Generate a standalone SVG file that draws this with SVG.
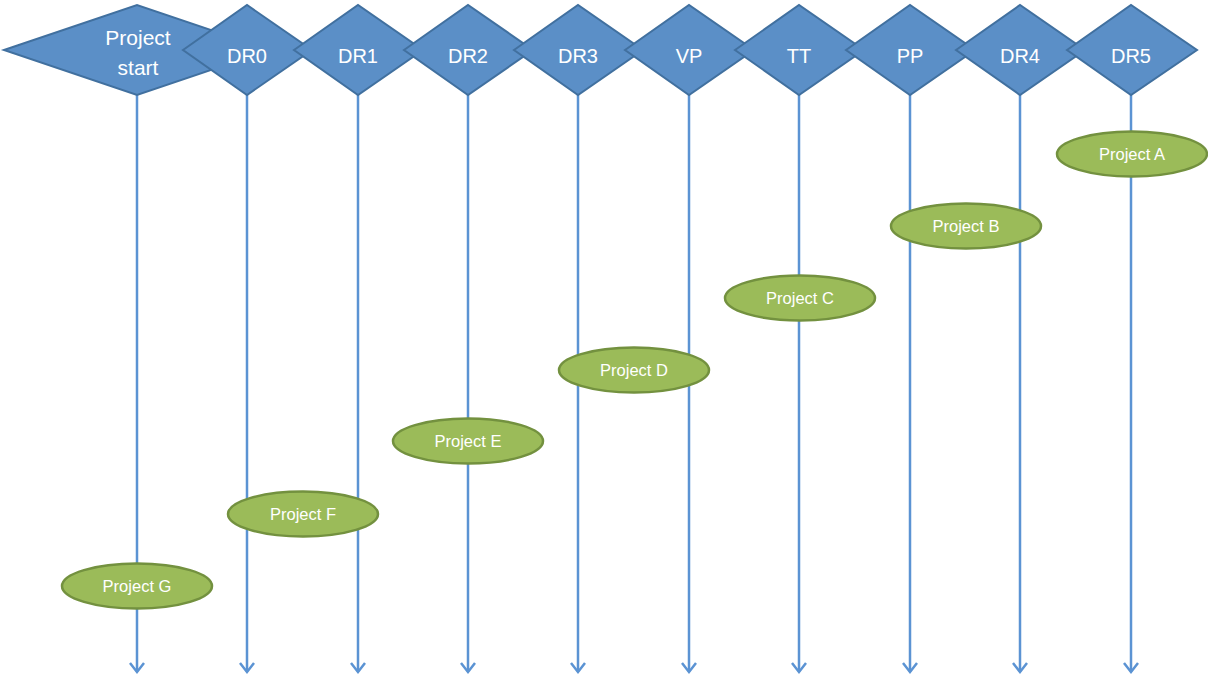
<svg xmlns="http://www.w3.org/2000/svg" width="1208" height="680" viewBox="0 0 1208 680">
<style>
.dia{fill:#5b8fc7;stroke:#41709f;stroke-width:2;stroke-linejoin:miter}
.dt{fill:#ffffff;font-family:"Liberation Sans",Arial,sans-serif;font-size:20px;text-anchor:middle}
.ell{fill:#9bbb59;stroke:#73913f;stroke-width:2.5}
.et{fill:#ffffff;font-family:"Liberation Sans",Arial,sans-serif;font-size:16.5px;text-anchor:middle}
.ln{stroke:#5b93d3;stroke-width:2.5;fill:none;marker-end:url(#arr)}
</style>
<defs>
<marker id="arr" markerWidth="14" markerHeight="16" refX="11" refY="8" orient="auto" markerUnits="userSpaceOnUse" viewBox="0 0 14 16">
<path d="M2,1 L11,8 L2,15" fill="none" stroke="#5b93d3" stroke-width="2.5"/>
</marker>
</defs>
<g id="connectors">
<line class="ln" x1="137" y1="94" x2="137" y2="672"/>
<line class="ln" x1="247" y1="94" x2="247" y2="672"/>
<line class="ln" x1="358" y1="94" x2="358" y2="672"/>
<line class="ln" x1="468" y1="94" x2="468" y2="672"/>
<line class="ln" x1="578" y1="94" x2="578" y2="672"/>
<line class="ln" x1="689" y1="94" x2="689" y2="672"/>
<line class="ln" x1="799" y1="94" x2="799" y2="672"/>
<line class="ln" x1="910" y1="94" x2="910" y2="672"/>
<line class="ln" x1="1020" y1="94" x2="1020" y2="672"/>
<line class="ln" x1="1131" y1="94" x2="1131" y2="672"/>
</g>
<g id="project-start"><polygon class="dia" points="4,50 137,5 270,50 137,95"/><text class="dt" x="138" y="45" style="font-size:21px">Project</text><text class="dt" x="138" y="75" style="font-size:21px">start</text></g>
<g id="dr0"><polygon class="dia" points="183,50 247,5 312,50 247,95"/><text class="dt" x="247" y="63">DR0</text></g>
<g id="dr1"><polygon class="dia" points="294,50 358,5 423,50 358,95"/><text class="dt" x="358" y="63">DR1</text></g>
<g id="dr2"><polygon class="dia" points="404,50 468,5 533,50 468,95"/><text class="dt" x="468" y="63">DR2</text></g>
<g id="dr3"><polygon class="dia" points="514,50 578,5 643,50 578,95"/><text class="dt" x="578" y="63">DR3</text></g>
<g id="vp"><polygon class="dia" points="625,50 689,5 754,50 689,95"/><text class="dt" x="689" y="63">VP</text></g>
<g id="tt"><polygon class="dia" points="735,50 799,5 864,50 799,95"/><text class="dt" x="799" y="63">TT</text></g>
<g id="pp"><polygon class="dia" points="846,50 910,5 975,50 910,95"/><text class="dt" x="910" y="63">PP</text></g>
<g id="dr4"><polygon class="dia" points="956,50 1020,5 1085,50 1020,95"/><text class="dt" x="1020" y="63">DR4</text></g>
<g id="dr5"><polygon class="dia" points="1067,50 1131,5 1197,50 1131,95"/><text class="dt" x="1131" y="63">DR5</text></g>
<g id="project-a"><ellipse class="ell" cx="1132" cy="154" rx="75" ry="22.5"/><text class="et" x="1132" y="160">Project A</text></g>
<g id="project-b"><ellipse class="ell" cx="966" cy="226" rx="75" ry="22.5"/><text class="et" x="966" y="232">Project B</text></g>
<g id="project-c"><ellipse class="ell" cx="800" cy="298" rx="75" ry="22.5"/><text class="et" x="800" y="304">Project C</text></g>
<g id="project-d"><ellipse class="ell" cx="634" cy="370" rx="75" ry="22.5"/><text class="et" x="634" y="376">Project D</text></g>
<g id="project-e"><ellipse class="ell" cx="468" cy="441" rx="75" ry="22.5"/><text class="et" x="468" y="447">Project E</text></g>
<g id="project-f"><ellipse class="ell" cx="303" cy="514" rx="75" ry="22.5"/><text class="et" x="303" y="520">Project F</text></g>
<g id="project-g"><ellipse class="ell" cx="137" cy="586" rx="75" ry="22.5"/><text class="et" x="137" y="592">Project G</text></g>
</svg>
